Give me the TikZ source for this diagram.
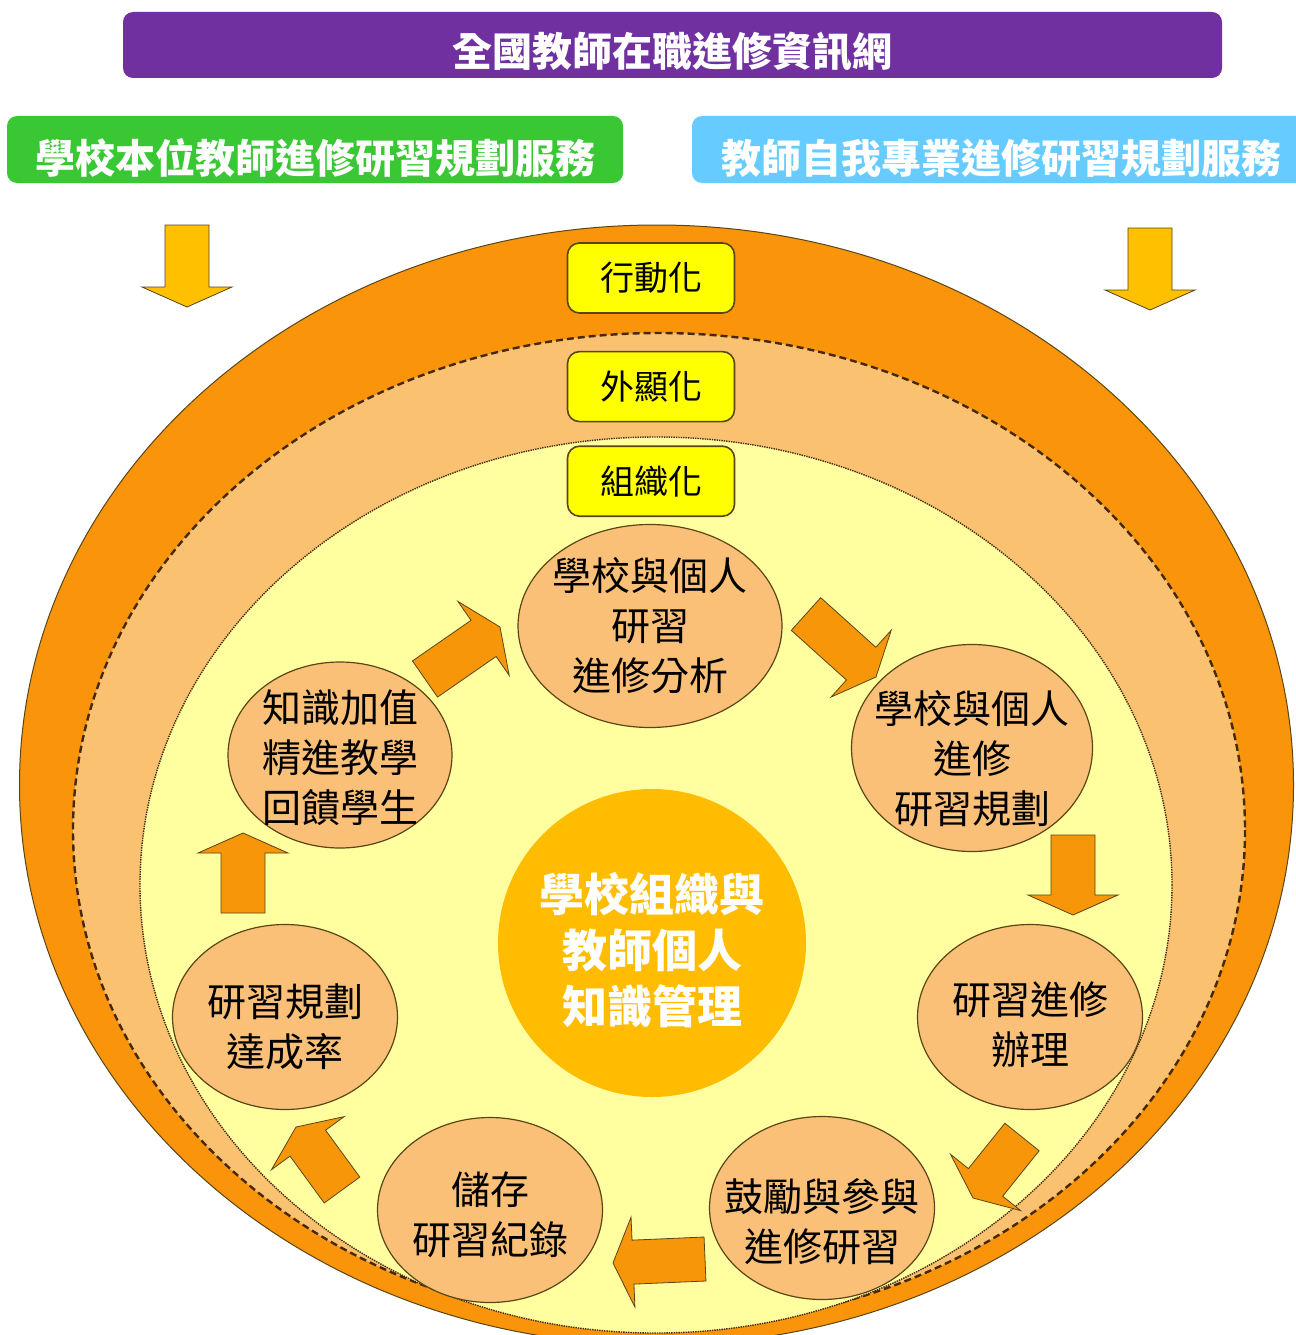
\documentclass[tikz,border=0pt]{standalone}
\usepackage{fontspec}
\newfontfamily\cjk{Noto Sans CJK TC}
\usetikzlibrary{calc,positioning,shapes.geometric}

\definecolor{barpurple}{RGB}{112,48,160}
\definecolor{bargreen}{RGB}{57,200,52}
\definecolor{barblue}{RGB}{102,204,255}
\definecolor{ringout}{RGB}{250,148,10}
\definecolor{ringmid}{RGB}{250,194,112}
\definecolor{ringin}{RGB}{255,255,160}
\definecolor{nodefill}{RGB}{250,192,120}
\definecolor{gold}{RGB}{255,188,0}
\definecolor{arrowfill}{RGB}{248,150,10}
\definecolor{yelarrow}{RGB}{255,192,0}
\definecolor{boxyellow}{RGB}{255,255,0}
\definecolor{edgedark}{RGB}{90,70,20}
\definecolor{ringline}{RGB}{70,40,10}

% block arrow from tail to tip
\newcommand{\blockarr}[3]{%
  \coordinate (hb) at ($(#3)!20pt!(#2)$);
  \draw[#1] ($(#2)!22pt!90:(#3)$) -- ($(hb)!22pt!90:(#3)$) -- ($(hb)!45pt!90:(#3)$)
    -- (#3) -- ($(hb)!45pt!-90:(#3)$) -- ($(hb)!22pt!-90:(#3)$) -- ($(#2)!22pt!-90:(#3)$) -- cycle;}
% centred lines, moved down a little
\newcommand{\lowered}[2]{\raisebox{-#1}[\height][\depth]{\begin{tabular}{@{}c@{}}#2\end{tabular}}}

\begin{document}
\begin{tikzpicture}[x=1pt,y=-1pt,
    bar/.style={rounded corners=10pt,text=white,inner sep=0pt,font=\cjk\bfseries\fontsize{40}{44}\selectfont},
    stage/.style={draw=edgedark,line width=1.6pt,fill=boxyellow,rounded corners=12pt,
      minimum width=167pt,minimum height=70pt,font=\cjk\fontsize{34}{40}\selectfont},
    task/.style={ellipse,draw=edgedark,line width=1.2pt,fill=nodefill,inner xsep=-20pt,inner ysep=-10pt,
      minimum width=225pt,minimum height=185pt,font=\cjk\fontsize{39}{50}\selectfont},
    core/.style={circle,fill=gold,minimum size=308pt,inner sep=0pt,text=white,
      font=\cjk\bfseries\fontsize{45}{56}\selectfont},
    flow/.style={fill=arrowfill,draw=edgedark,line width=0.8pt},
    feed/.style={fill=yelarrow,draw=edgedark,line width=0.8pt}]
    \useasboundingbox (0,0) rectangle (1295,1335);

    %service bars
    \node[bar,fill=barpurple,minimum width=1099pt,minimum height=66pt] (net) at (672.5,45) {\lowered{11pt}{全國教師在職進修資訊網}};
    \node[bar,fill=bargreen,minimum width=616pt,minimum height=67pt] (school) at (315,149.5) {\lowered{13pt}{學校本位教師進修研習規劃服務}};
    \node[bar,fill=barblue,minimum width=618pt,minimum height=67pt] (self) at (1001,149.5) {\lowered{13pt}{教師自我專業進修研習規劃服務}};

    %rings
    \draw[edgedark,line width=1pt,fill=ringout] (656.5,785) ellipse [x radius=637,y radius=560];
    \draw[ringline,line width=2.4pt,dash pattern=on 7pt off 4pt,fill=ringmid] (659,830) ellipse [x radius=586,y radius=497];
    \draw[ringline,line width=1.4pt,densely dotted,fill=ringin] (656,885) ellipse [x radius=516,y radius=448];

    %feed arrows
    \coordinate (f1s) at (187,225); \coordinate (f1e) at (187,307);
    \coordinate (f2s) at (1150,228); \coordinate (f2e) at (1150,310);
    \blockarr{feed}{f1s}{f1e}
    \blockarr{feed}{f2s}{f2e}

    %stages
    \node[stage] (act) at (651,278) {行動化};
    \node[stage,below=37pt of act] (ext) {外顯化};
    \node[stage,below=23pt of ext] (org) {組織化};

    %core
    \node[core] (km) at (652,943) {\lowered{13pt}{學校組織與\\教師個人\\知識管理}};

    %cycle
    \node[task,minimum width=264pt,minimum height=203pt] (need) at (650,626) {\lowered{4pt}{學校與個人\\研習\\進修分析}};
    \node[task,minimum width=241pt,minimum height=207pt] (plan) at (972,748) {\lowered{15pt}{學校與個人\\進修\\研習規劃}};
    \node[task] (run) at (1030,1017) {\lowered{12pt}{研習進修\\辦理}};
    \node[task,minimum height=183pt] (join) at (822,1208) {\lowered{18pt}{鼓勵與參與\\進修研習}};
    \node[task] (keep) at (490,1210) {\lowered{9pt}{儲存\\研習紀錄}};
    \node[task] (rate) at (285,1017) {\lowered{14pt}{研習規劃\\達成率}};
    \node[task,minimum width=224pt,minimum height=186pt] (gain) at (340,755) {\lowered{7pt}{知識加值\\精進教學\\回饋學生}};

    %cycle arrows
    \coordinate (a1s) at (425,679); \coordinate (a1e) at (500,627);
    \coordinate (a2s) at (806,614); \coordinate (a2e) at (876,677);
    \coordinate (a3s) at (1073,835); \coordinate (a3e) at (1073,915);
    \coordinate (a4s) at (1022,1137); \coordinate (a4e) at (973,1198);
    \coordinate (a5s) at (705,1259); \coordinate (a5e) at (613,1263);
    \coordinate (a6s) at (342,1190); \coordinate (a6e) at (296,1127);
    \coordinate (a7s) at (243,913); \coordinate (a7e) at (243,833);
    \blockarr{flow}{a1s}{a1e}
    \blockarr{flow}{a2s}{a2e}
    \blockarr{flow}{a3s}{a3e}
    \blockarr{flow}{a4s}{a4e}
    \blockarr{flow}{a5s}{a5e}
    \blockarr{flow}{a6s}{a6e}
    \blockarr{flow}{a7s}{a7e}
\end{tikzpicture}
\end{document}
